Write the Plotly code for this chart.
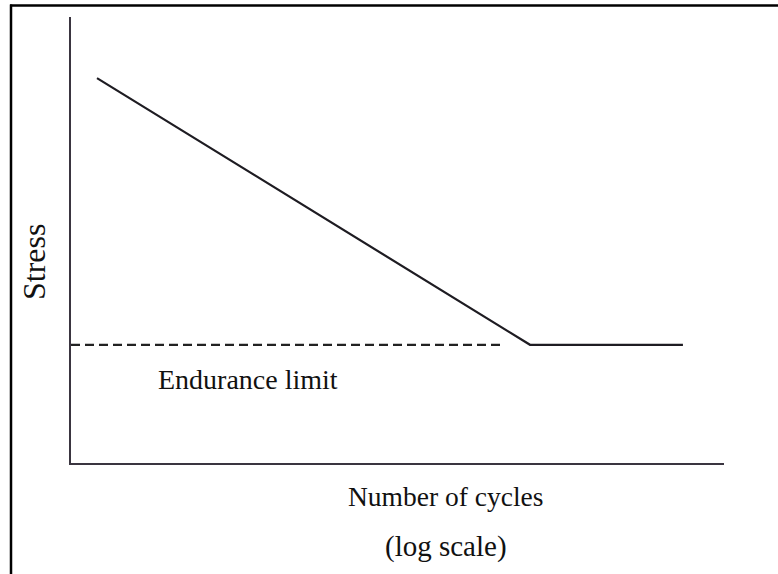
import plotly.graph_objects as go

# S-N curve (x: number of cycles on log scale, y: stress, arbitrary units)
cycles = [2.5, 1.07e7, 2.35e9]
stress = [86.3, 26.5, 26.5]

# Endurance limit dashed reference line
limit_cycles = [1.0, 4.0e6]
limit_stress = [26.5, 26.5]

x_label = "Number of cycles"
x_label2 = "(log scale)"
y_label = "Stress"
limit_label = "Endurance limit"

W, H = 778, 574
L, R, T, B = 71, 54, 17, 111
pw, ph = W - L - R, H - T - B

def px(x):
    return (x - L) / pw

def py(y):
    return (H - B - y) / ph

FONT = "Liberation Serif"
fig = go.Figure()
fig.add_trace(go.Scatter(x=cycles, y=stress, mode="lines",
                         line=dict(color="#1e1c22", width=2.2), showlegend=False,
                         hoverinfo="skip"))
fig.add_trace(go.Scatter(x=limit_cycles, y=limit_stress, mode="lines",
                         line=dict(color="#222222", width=2.2, dash="9px,5px"),
                         showlegend=False, hoverinfo="skip"))

axis_common = dict(showgrid=False, zeroline=False, showticklabels=False, ticks="",
                   showline=True, linecolor="#3a3540", linewidth=2)
fig.update_xaxes(type="log", range=[0, 10], **axis_common)
fig.update_yaxes(range=[0, 100], **axis_common)

anns = [
    dict(text=y_label, x=px(34), y=py(262), textangle=-90, size=32),
    dict(text=limit_label, x=px(247.5), y=py(379), textangle=0, size=28),
    dict(text=x_label, x=px(445), y=py(496), textangle=0, size=27.5),
    dict(text=x_label2, x=px(446), y=py(546), textangle=0, size=29),
]
for a in anns:
    fig.add_annotation(text=a["text"], x=a["x"], y=a["y"], xref="paper", yref="paper",
                       xanchor="center", yanchor="middle", showarrow=False,
                       textangle=a["textangle"],
                       font=dict(family=FONT, size=a["size"], color="#111111"))

# Frame lines (left and top) as in the reference
fig.add_shape(type="line", xref="paper", yref="paper", x0=px(11), x1=px(11),
              y0=py(H + 5), y1=py(4.5), line=dict(color="black", width=2.5))
fig.add_shape(type="line", xref="paper", yref="paper", x0=px(10), x1=px(W + 5),
              y0=py(5.5), y1=py(5.5), line=dict(color="black", width=2.5))

fig.update_layout(width=W, height=H, margin=dict(l=L, r=R, t=T, b=B),
                  paper_bgcolor="white", plot_bgcolor="white")
fig.write_html("out.html", config={"displayModeBar": False, "staticPlot": True},
               post_script="document.body.style.margin='0';document.body.style.overflow='hidden';")
